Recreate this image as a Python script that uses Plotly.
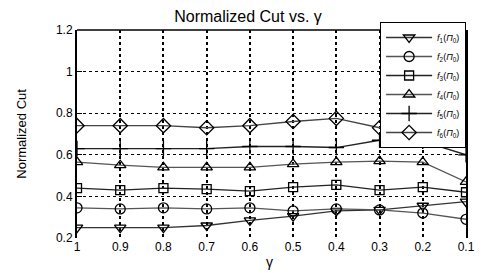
import plotly.graph_objects as go

gamma = [1.0, 0.9, 0.8, 0.7, 0.6, 0.5, 0.4, 0.3, 0.2, 0.1]
tick_labels = ["1", "0.9", "0.8", "0.7", "0.6", "0.5", "0.4", "0.3", "0.2", "0.1"]

f1 = [0.25, 0.25, 0.25, 0.26, 0.285, 0.305, 0.33, 0.335, 0.355, 0.375]
f2 = [0.345, 0.34, 0.345, 0.34, 0.345, 0.33, 0.34, 0.335, 0.32, 0.29]
f3 = [0.44, 0.43, 0.44, 0.435, 0.425, 0.445, 0.455, 0.43, 0.445, 0.42]
f4 = [0.565, 0.55, 0.54, 0.54, 0.54, 0.555, 0.565, 0.57, 0.565, 0.47]
f5 = [0.63, 0.63, 0.63, 0.63, 0.64, 0.64, 0.635, 0.67, 0.665, 0.60]
f6 = [0.74, 0.74, 0.74, 0.73, 0.74, 0.76, 0.775, 0.73, 0.70, 0.74]

names = ["<i>f</i><sub>1</sub>(<i>Π</i><sub>0</sub>)",
         "<i>f</i><sub>2</sub>(<i>Π</i><sub>0</sub>)",
         "<i>f</i><sub>3</sub>(<i>Π</i><sub>0</sub>)",
         "<i>f</i><sub>4</sub>(<i>Π</i><sub>0</sub>)",
         "<i>f</i><sub>5</sub>(<i>Π</i><sub>0</sub>)",
         "<i>f</i><sub>6</sub>(<i>Π</i><sub>0</sub>)"]
series = [f1, f2, f3, f4, f5, f6]
symbols = ["triangle-down-open", "circle-open", "square-open", "triangle-up-open",
           "cross-thin-open", "diamond-open"]
sizes = [10, 10, 9, 10, 11, 11]
lcolors = ["#333333", "#555555", "#222222", "#555555", "#222222", "#444444"]

# page body has an 8px default margin: the figure is offset by (8, 8)
W, H = 479, 265
L, T, R, B = 69, 22, 16, 35
PW, PH = W - L - R, H - T - B

fig = go.Figure()
for s, n, sym, sz, c in zip(series, names, symbols, sizes, lcolors):
    fig.add_trace(go.Scatter(
        x=gamma, y=s, name=n, mode="lines+markers",
        line=dict(color=c, width=1.3),
        marker=dict(symbol=sym, size=sz, color="black",
                    line=dict(color="black", width=1.3)),
    ))

fig.update_layout(
    width=W, height=H,
    margin=dict(l=L, r=R, t=T, b=B),
    paper_bgcolor="white", plot_bgcolor="white",
    font=dict(family="Liberation Sans, Arial, sans-serif", color="black", size=12),
    title=dict(text="Normalized Cut vs. γ", x=240/W, xanchor="center",
               y=1 - 8/H, yanchor="middle", font=dict(size=16)),
    showlegend=True,
    legend=dict(x=(376-L)/PW, y=1 + 8/PH, xanchor="left", yanchor="top",
                bgcolor="white", bordercolor="black", borderwidth=1,
                font=dict(size=9), tracegroupgap=0, itemwidth=46),
)
fig.update_xaxes(
    range=[1.0, 0.1], tickvals=gamma, ticktext=tick_labels,
    showgrid=True, gridcolor="black", gridwidth=1.5, griddash="dot",
    showline=False, zeroline=False, ticks="", tickfont=dict(size=12),
)
fig.update_yaxes(
    range=[0.2, 1.2], tickvals=[0.2, 0.4, 0.6, 0.8, 1.0, 1.2],
    ticktext=["0.2", "0.4", "0.6", "0.8", "1", "1.2"],
    showgrid=True, gridcolor="black", gridwidth=1.3, griddash="dot",
    showline=True, linecolor="black", linewidth=2, mirror=True,
    ticks="inside", ticklen=5, tickcolor="black",
    zeroline=False, tickfont=dict(size=12),
)
fig.add_shape(type="line", xref="paper", yref="paper", x0=0, x1=1, y0=1, y1=1,
              line=dict(color="black", width=1.5))
fig.add_annotation(text="Normalized Cut", xref="paper", yref="paper",
                   x=(12-L)/PW, y=0.5, textangle=-90, showarrow=False,
                   font=dict(size=13), xanchor="center", yanchor="middle")
fig.add_annotation(text="γ", xref="paper", yref="paper",
                   x=(264-L)/PW, y=-(254-(H-B))/PH, showarrow=False,
                   font=dict(size=14), xanchor="center", yanchor="middle")

fig.write_html("out.html")
